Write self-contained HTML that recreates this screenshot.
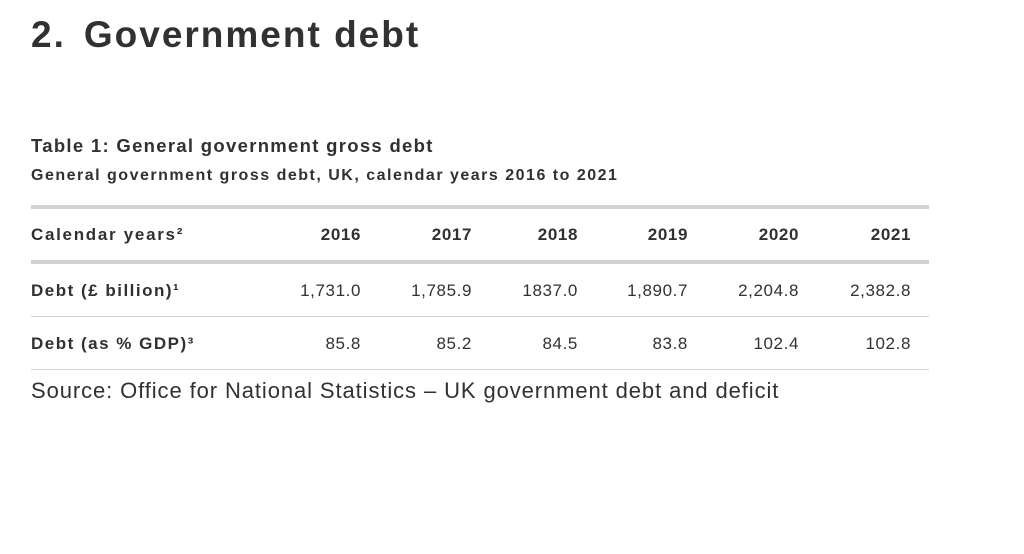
<!DOCTYPE html>
<html><head><style>
body{margin:0;width:1024px;height:554px;background:#fff;font-family:"Liberation Sans",sans-serif;color:#323132;position:relative;overflow:hidden}
.a{position:absolute;white-space:nowrap}
.r{position:absolute;white-space:nowrap;text-align:right;width:120px;letter-spacing:0.6px;margin-right:-0.6px}
.line{position:absolute;left:31px;width:898px;background:#d1d2d3}
.b{font-weight:bold}
</style></head><body>
<div class="a b" style="left:31px;top:14px;font-size:37px;letter-spacing:2px">2.<span style="display:inline-block;width:18px"></span>Government debt</div>
<div class="a b" style="left:31px;top:135px;font-size:18.5px;letter-spacing:1.3px">Table 1: General government gross debt</div>
<div class="a b" style="left:31px;top:167px;font-size:16px;letter-spacing:1.5px">General government gross debt, UK, calendar years 2016 to 2021</div>
<div class="line" style="top:205px;height:4px"></div>
<div class="line" style="top:260px;height:4px"></div>
<div class="line" style="top:316px;height:1px"></div>
<div class="line" style="top:369px;height:1px"></div>
<div style="font-size:17px">
<div class="a b" style="left:31px;top:225px;letter-spacing:1.7px">Calendar years²</div>
<div class="a b" style="left:31px;top:281px;letter-spacing:1.5px">Debt (£ billion)¹</div>
<div class="a b" style="left:31px;top:334px;letter-spacing:1.5px">Debt (as % GDP)³</div>
<div class="r b" style="left:241px;top:225px">2016</div>
<div class="r b" style="left:352px;top:225px">2017</div>
<div class="r b" style="left:458px;top:225px">2018</div>
<div class="r b" style="left:568px;top:225px">2019</div>
<div class="r b" style="left:679px;top:225px">2020</div>
<div class="r b" style="left:791px;top:225px">2021</div>
<div class="r" style="left:241px;top:281px">1,731.0</div>
<div class="r" style="left:352px;top:281px">1,785.9</div>
<div class="r" style="left:458px;top:281px">1837.0</div>
<div class="r" style="left:568px;top:281px">1,890.7</div>
<div class="r" style="left:679px;top:281px">2,204.8</div>
<div class="r" style="left:791px;top:281px">2,382.8</div>
<div class="r" style="left:241px;top:334px">85.8</div>
<div class="r" style="left:352px;top:334px">85.2</div>
<div class="r" style="left:458px;top:334px">84.5</div>
<div class="r" style="left:568px;top:334px">83.8</div>
<div class="r" style="left:679px;top:334px">102.4</div>
<div class="r" style="left:791px;top:334px">102.8</div>
</div>
<div class="a" style="left:31px;top:378px;font-size:22px;letter-spacing:0.9px">Source: Office for National Statistics – UK government debt and deficit</div>
</body></html>
